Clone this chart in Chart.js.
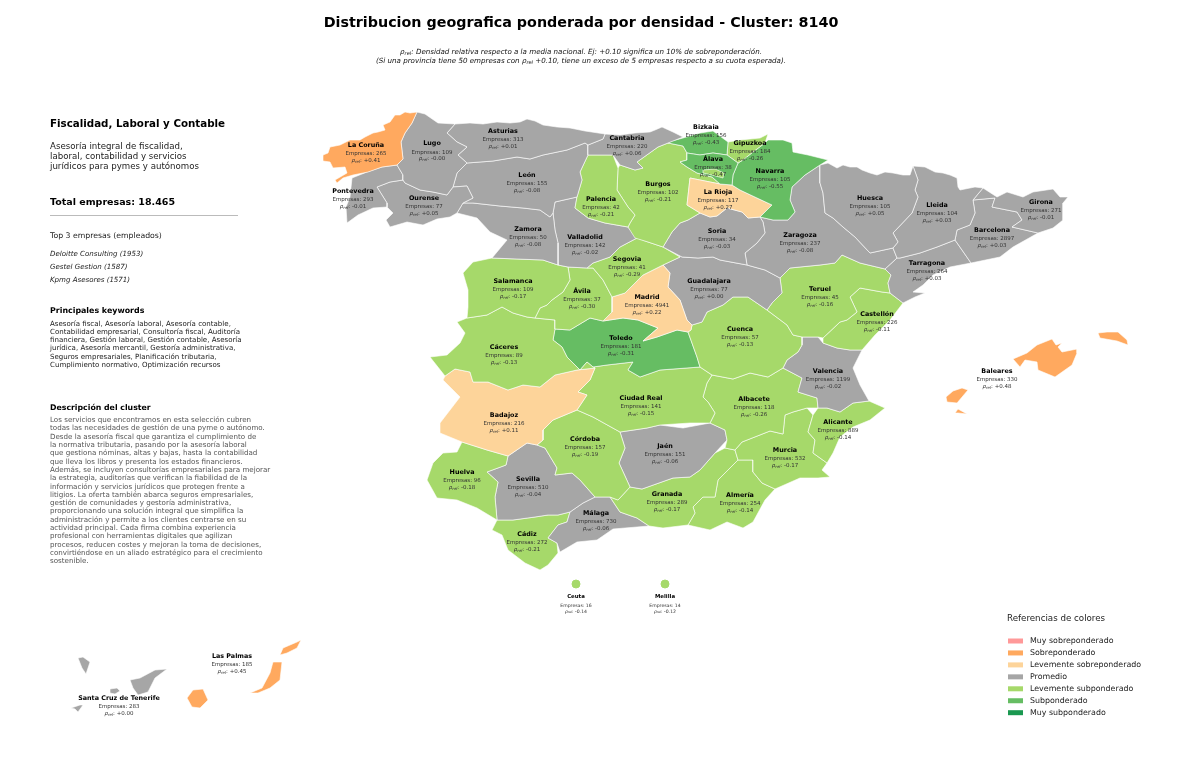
<!DOCTYPE html>
<html><head><meta charset="utf-8">
<style>html,body{margin:0;padding:0;background:#fff}canvas{display:block}</style>
<script src="https://cdn.jsdelivr.net/npm/chart.js@4"></script>
</head><body><canvas id="c" width="1200" height="761"></canvas>
<script>
const provinces=["La Coruña","Lugo","Asturias","Cantabria","Bizkaia","Gipuzkoa","Álava","Navarra","La Rioja","Pontevedra","Ourense","León","Palencia","Burgos","Huesca","Lleida","Girona","Barcelona","Zamora","Valladolid","Soria","Zaragoza","Tarragona","Segovia","Salamanca","Ávila","Madrid","Guadalajara","Teruel","Castellón","Cuenca","Cáceres","Toledo","Badajoz","Ciudad Real","Valencia","Albacete","Alicante","Córdoba","Jaén","Murcia","Huelva","Sevilla","Granada","Almería","Málaga","Cádiz","Ceuta","Melilla","Baleares","Las Palmas","Santa Cruz de Tenerife"];
const empresas=[265,109,313,220,156,184,38,105,117,293,77,155,42,102,105,104,271,2897,50,142,34,237,264,41,109,37,4941,77,45,226,57,89,181,216,141,1199,118,889,157,151,532,96,510,289,254,730,272,16,14,330,185,283];
const rhoRel=[0.41,-0.00,0.01,0.06,-0.43,-0.26,-0.47,-0.55,0.27,-0.01,0.05,-0.08,-0.21,-0.21,0.05,0.03,-0.01,0.03,-0.08,-0.02,-0.03,-0.08,0.03,-0.29,-0.17,-0.30,0.22,0.00,-0.16,-0.11,-0.13,-0.13,-0.31,0.11,-0.15,-0.02,-0.26,-0.14,-0.19,-0.06,-0.17,-0.18,-0.04,-0.17,-0.14,-0.06,-0.21,-0.14,-0.12,0.48,0.45,0.00];
const labelAnchorX=[366,432,503,627,706,750,713,770,718,353,424,527,601,658,870,937,1041,992,528,585,717,800,927,627,513,582,647,709,820,877,740,504,621,504,641,828,754,838,585,665,785,462,528,667,740,596,527,576,665,997,232,119];
const labelAnchorY=[145,143.5,131,138,127,143,159,171,192,191,198,175,199,184,198,205,202,230,229,237,231,235,263,259,281,291,297,281,289,314,329,347,338,415,398,371,399,422,439,446,450,472,479,494,495,513,534,597,597,371,656,698];
const outlines={
"La Coruña":[[417,112,412,123,405,133,401,142,403,159,397,165,382,167,368,172,353,175,343,178,337,183,335,180,347,173,345,167,333,168,330,162,323,161,323,155,328,153,330,147,340,145,350,140,360,140,365,137,373,133,378,132,385,130,383,125,390,122,395,115,400,115,405,112,410,113]],
"Pontevedra":[[397,165,403,175,403,180,390,182,377,187,387,203,387,207,373,208,358,215,347,223,346,207,350,197,352,178,367,172,382,167]],
"Lugo":[[417,112,425,114,438,123,455,124,447,133,457,142,467,147,458,155,467,163,457,173,453,187,447,195,433,192,420,190,405,183,403,180,403,175,397,165,403,159,401,142,405,133,412,123]],
"Ourense":[[377,187,390,182,403,180,405,183,420,190,433,192,447,195,453,187,467,186,473,198,463,203,457,213,450,217,437,219,423,225,407,222,390,227,386,220,393,213,387,207,387,203]],
"Asturias":[[455,124,470,123,483,124,497,122,510,123,520,122,527,119,535,121,543,125,557,127,570,128,585,131,605,134,603,139,588,145,585,143,567,150,543,155,530,159,517,157,493,161,467,163,458,155,467,147,457,142,447,133]],
"León":[[467,163,493,161,517,157,530,159,543,155,567,150,585,143,588,145,588,155,580,172,582,180,577,197,555,202,553,213,550,217,540,210,523,208,500,206,473,203,463,203,473,198,467,186,453,187,457,173]],
"Zamora":[[457,213,463,203,473,203,500,206,523,208,540,210,550,217,553,213,555,230,558,243,558,265,543,260,517,259,492,258,507,240,490,232,477,218]],
"Valladolid":[[555,202,577,197,575,208,588,218,605,223,628,227,637,238,620,247,610,257,593,263,587,268,568,267,558,265,558,243,555,230,553,213]],
"Palencia":[[588,155,605,155,613,155,618,168,617,190,628,207,635,215,630,223,628,227,605,223,588,218,575,208,577,197,582,180,580,172]],
"Cantabria":[[605,134,620,135,635,133,650,132,655,130,662,127,673,132,683,137,668,143,658,147,637,162,643,168,635,170,620,165,613,155,605,155,588,155,588,145,603,139]],
"Burgos":[[637,162,658,147,668,143,683,146,687,153,687,160,680,162,687,167,697,173,712,177,720,184,700,180,690,178,687,205,700,213,688,220,680,223,672,232,663,247,648,242,635,238,628,227,630,223,635,215,628,207,617,190,618,168,620,165,635,170,643,168],[703,170,715,169,724,173,723,178,712,175,703,173]],
"Bizkaia":[[668,143,672,141,683,138,700,133,713,131,728,142,727,155,713,153,700,155,687,153,683,146]],
"Gipuzkoa":[[728,142,740,140,760,138,768,134,765,143,753,152,743,160,738,163,727,155]],
"Navarra":[[765,143,768,140,783,140,792,143,793,152,808,155,828,160,820,165,805,175,792,187,790,200,795,212,788,220,773,220,760,217,772,205,757,198,740,190,732,185,733,175,738,163,743,160,753,152]],
"Álava":[[687,153,700,155,713,153,727,155,738,163,733,175,732,185,720,184,712,177,697,173,687,167,680,162,687,160]],
"La Rioja":[[690,178,700,180,720,184,732,185,740,190,757,198,772,205,760,217,748,218,742,212,727,208,717,216,710,217,700,213,687,205]],
"Soria":[[700,213,710,217,717,216,727,208,742,212,748,218,760,217,763,222,765,233,757,243,745,253,747,265,720,260,713,257,698,258,682,257,663,247,672,232,680,223,688,220]],
"Zaragoza":[[760,217,773,220,788,220,795,212,790,200,792,187,805,175,820,165,820,183,823,193,825,213,833,218,843,227,855,237,870,253,893,248,897,258,885,269,860,263,842,255,835,263,820,265,800,267,790,268,780,278,765,270,747,265,745,253,757,243,765,233,763,222]],
"Huesca":[[820,165,828,163,837,168,843,165,850,167,857,167,862,170,870,173,877,175,885,172,893,173,903,175,910,175,913,166,918,180,915,190,918,197,912,213,893,233,898,242,893,248,870,253,855,237,843,227,833,218,825,213,823,193,820,183]],
"Lleida":[[913,166,925,167,935,172,943,173,950,175,957,178,958,187,960,190,975,187,983,188,973,200,975,213,970,225,957,230,955,240,937,247,920,253,900,258,897,258,893,248,898,242,893,233,912,213,918,197,915,190,918,180]],
"Tarragona":[[885,269,897,258,900,258,920,253,937,247,955,240,962,250,971,263,950,267,933,275,923,285,913,292,925,293,915,297,903,303,890,293,888,283,891,275]],
"Barcelona":[[973,200,995,198,992,207,1017,212,1022,220,1012,227,1038,233,1013,247,1000,257,971,263,962,250,955,240,957,230,970,225,975,213]],
"Girona":[[983,188,997,197,1007,192,1023,197,1033,192,1053,189,1060,197,1068,197,1063,203,1063,220,1053,228,1038,233,1012,227,1022,220,1017,212,992,207,995,198,973,200]],
"Teruel":[[780,278,790,268,800,267,820,265,835,263,842,255,860,263,885,269,891,275,888,283,890,293,882,292,860,288,850,297,857,312,847,320,840,322,823,338,818,337,802,337,793,335,787,325,767,310,772,303,782,293]],
"Castellón":[[850,297,860,288,882,292,890,293,903,303,890,320,875,335,862,350,850,350,837,348,823,343,823,338,840,322,847,320,857,312]],
"Valencia":[[802,337,818,337,823,343,837,348,850,350,862,350,853,368,860,385,869,401,853,403,840,412,827,408,818,408,817,398,798,392,802,378,783,368,787,360,798,352,802,345],[788,327,795,323,808,330,805,334,793,334]],
"Cuenca":[[688,332,691,330,692,325,702,322,707,312,723,305,733,297,748,297,767,310,787,325,793,335,802,337,802,345,798,352,787,360,783,368,768,377,750,373,733,379,712,375,700,367,697,357]],
"Guadalajara":[[663,247,682,257,698,258,713,257,720,260,747,265,765,270,780,278,782,293,772,303,767,310,748,297,733,297,723,305,707,312,702,322,692,325,687,320,680,300,668,287,670,273,663,265,680,257]],
"Segovia":[[663,247,680,257,663,265,643,275,625,293,612,297,603,280,593,268,587,268,593,263,610,257,620,247,637,238,648,242]],
"Madrid":[[663,265,670,273,668,287,680,300,687,320,692,325,691,330,688,332,677,330,657,337,643,341,658,328,638,320,623,318,603,321,612,312,612,297,625,293,643,275]],
"Toledo":[[555,329,570,330,590,318,603,321,623,318,638,320,658,328,643,341,657,337,677,330,688,332,697,357,700,367,660,370,640,377,628,370,633,362,607,365,593,367,587,362,580,370,567,357,562,347,553,340]],
"Ávila":[[568,267,587,268,593,268,603,280,612,297,612,312,603,321,590,318,570,330,555,329,555,320,535,318,540,308,547,305,552,300,563,292,570,280]],
"Salamanca":[[463,273,473,262,492,258,517,259,543,260,558,265,568,267,570,280,563,292,552,300,547,305,540,308,535,318,527,317,513,313,502,307,487,315,467,318,468,307,468,290]],
"Cáceres":[[457,322,467,318,487,315,502,307,513,313,527,317,535,318,555,320,555,329,553,340,562,347,567,357,580,370,587,362,593,367,595,368,577,370,555,375,540,387,523,385,508,390,488,382,473,382,470,372,455,369,445,376,430,357,447,355,460,343,465,333]],
"Badajoz":[[445,376,455,369,470,372,473,382,488,382,508,390,523,385,540,387,555,375,577,370,595,368,590,380,578,392,587,395,577,410,553,420,543,430,543,440,537,445,527,443,508,456,487,450,462,442,440,433,440,423,460,397,443,380]],
"Ciudad Real":[[595,368,593,367,607,365,633,362,628,370,640,377,660,370,700,367,712,375,707,383,703,397,708,402,715,413,710,423,690,423,660,425,647,428,620,432,593,417,577,410,587,395,578,392,590,380]],
"Córdoba":[[543,430,553,420,577,410,593,417,620,432,625,448,619,463,630,487,618,500,610,497,595,497,580,480,572,473,555,475,557,468,545,448,537,445,543,440]],
"Jaén":[[620,432,647,428,660,425,683,428,710,423,725,430,727,440,715,453,700,470,690,477,673,478,642,489,630,487,619,463,625,448]],
"Granada":[[618,500,630,487,642,489,673,478,690,477,700,470,715,453,725,448,735,450,738,460,718,480,715,497,703,497,693,507,695,513,688,525,663,528,649,526,637,518,620,512,610,497]],
"Almería":[[738,460,753,460,753,472,762,483,775,489,765,500,753,522,743,528,727,522,710,530,688,525,695,513,693,507,703,497,715,497,718,480]],
"Murcia":[[735,450,742,442,770,431,783,434,785,415,793,412,807,408,813,415,808,432,815,440,813,453,827,463,822,470,830,477,818,478,800,478,775,489,762,483,753,472,753,460,738,460]],
"Alicante":[[813,415,818,408,827,408,840,412,853,403,869,401,885,408,870,420,853,427,840,437,833,453,827,463,813,453,815,440,808,432]],
"Albacete":[[712,375,733,379,750,373,768,377,783,368,802,378,798,392,817,398,818,408,807,408,793,412,785,415,783,434,770,431,742,442,735,450,725,448,727,440,725,430,710,423,715,413,708,402,703,397,707,383]],
"Huelva":[[462,442,487,450,508,456,506,465,487,472,498,482,495,497,497,520,477,508,457,500,437,498,427,480,433,463,443,453,457,452]],
"Sevilla":[[487,472,506,465,508,456,527,443,537,445,545,448,557,468,555,475,572,473,580,480,595,497,583,503,570,512,558,515,548,515,535,517,513,520,497,520,495,497,498,482]],
"Cádiz":[[497,520,513,520,535,517,548,515,558,515,570,512,567,522,558,525,548,538,557,543,558,553,548,565,540,570,525,563,508,550,502,535,492,530]],
"Málaga":[[570,512,583,503,595,497,610,497,620,512,637,518,649,526,613,529,597,540,577,542,560,552,557,543,548,538,558,525,567,522]],
"Baleares":[[1013,359,1027,353,1037,345,1052,339,1056,345,1062,343,1058,347,1062,352,1077,349,1077,353,1072,365,1055,377,1038,370,1037,362,1025,360,1020,367],[1098,333,1107,332,1118,332,1127,340,1128,345,1117,341,1100,338],[946,397,953,391,962,388,968,390,957,403,947,402],[955,413,958,409,967,414,958,413]],
"Santa Cruz de Tenerife":[[78,658,83,657,90,662,86,674,82,668],[130,680,140,678,155,670,167,669,155,678,148,692,138,695,133,688],[110,689,117,688,120,691,115,694,110,693],[71,708,80,705,83,705,78,712,75,709]],
"Las Palmas":[[187,698,193,690,203,689,208,700,200,708,192,707],[250,693,262,688,270,673,273,662,282,662,280,680,270,688,258,693],[280,655,283,648,297,642,301,640,297,648,287,653]]
};
const cityPoints={"Ceuta":[576,584],"Melilla":[665,584]};
const legendLabels=["Muy sobreponderado","Sobreponderado","Levemente sobreponderado","Promedio","Levemente subponderado","Subponderado","Muy subponderado"];
const legendColors=["#ff9999","#ffa95f","#fdd49a","#a6a6a6","#a6d96a","#66bd63","#1a9850"];
const titleText="Distribucion geografica ponderada por densidad - Cluster: 8140";
const leftDesc=["Asesoría integral de fiscalidad,","laboral, contabilidad y servicios","jurídicos para pymes y autónomos"];
const topCompanies=["Deloitte Consulting (1953)","Gestel Gestion (1587)","Kpmg Asesores (1571)"];
const keywords=["Asesoría fiscal, Asesoría laboral, Asesoría contable,","Contabilidad empresarial, Consultoría fiscal, Auditoría","financiera, Gestión laboral, Gestión contable, Asesoría","jurídica, Asesoría mercantil, Gestoría administrativa,","Seguros empresariales, Planificación tributaria,","Cumplimiento normativo, Optimización recursos"];
const clusterText=["Los servicios que encontramos en esta selección cubren","todas las necesidades de gestión de una pyme o autónomo.","Desde la asesoría fiscal que garantiza el cumplimiento de","la normativa tributaria, pasando por la asesoría laboral","que gestiona nóminas, altas y bajas, hasta la contabilidad","que lleva los libros y presenta los estados financieros.","Además, se incluyen consultorías empresariales para mejorar","la estrategia, auditorías que verifican la fiabilidad de la","información y servicios jurídicos que protegen frente a","litigios. La oferta también abarca seguros empresariales,","gestión de comunidades y gestoría administrativa,","proporcionando una solución integral que simplifica la","administración y permite a los clientes centrarse en su","actividad principal. Cada firma combina experiencia","profesional con herramientas digitales que agilizan","procesos, reducen costes y mejoran la toma de decisiones,","convirtiéndose en un aliado estratégico para el crecimiento","sostenible."];

const FF='"DejaVu Sans"';
function colorFor(r){
  if(r>=0.6)return legendColors[0];
  if(r>=0.3)return legendColors[1];
  if(r>0.1)return legendColors[2];
  if(r>=-0.1)return legendColors[3];
  if(r>=-0.30)return legendColors[4];
  if(r>=-0.6)return legendColors[5];
  return legendColors[6];
}
const datasets=[];
provinces.forEach((p,i)=>{
  const col=colorFor(rhoRel[i]);
  (outlines[p]||[]).forEach((ring,k)=>{
    const data=[];
    for(let j=0;j<ring.length;j+=2)data.push({x:ring[j],y:ring[j+1]});
    data.push({x:ring[0],y:ring[1]});
    const enclave=(p==="Burgos"&&k===1);
    datasets.push({label:p,data,showLine:true,fill:'shape',backgroundColor:col,borderColor:'#ffffff',borderWidth:0.6,pointRadius:0,tension:0,order:enclave?0:(p==="Álava"?1:2)});
  });
  if(cityPoints[p]){
    datasets.push({label:p,data:[{x:cityPoints[p][0],y:cityPoints[p][1]}],showLine:false,backgroundColor:col,borderColor:col,pointRadius:4,order:0});
  }
});
function text(ctx,s,x,y,font,color,align){
  ctx.font=font+' '+FF;ctx.fillStyle=color;ctx.textAlign=align||'left';ctx.textBaseline='middle';ctx.fillText(s,x,y);
}
function runs(ctx,parts,cx,y,color){
  let w=0;
  parts.forEach(p=>{ctx.font=p[1]+' '+FF;w+=ctx.measureText(p[0]).width;});
  let x=cx-w/2;
  ctx.fillStyle=color;ctx.textAlign='left';ctx.textBaseline='middle';
  parts.forEach(p=>{ctx.font=p[1]+' '+FF;ctx.fillText(p[0],x,y+(p[2]||0));x+=ctx.measureText(p[0]).width;});
}
const sign=v=>(v>=0&&!Object.is(v,-0)?'+':'-')+Math.abs(v).toFixed(2);
const overlay={id:'overlay',afterDatasetsDraw(chart){
  const ctx=chart.ctx,sx=chart.scales.x,sy=chart.scales.y;
  ctx.save();
  text(ctx,titleText,581,23,'bold 14.3px','#000','center');
  const it='italic 7.12px',sub='italic 5.1px';
  runs(ctx,[["ρ",it],["rel",sub,1.5],[": Densidad relativa respecto a la media nacional. Ej: +0.10 significa un 10% de sobreponderación.",it]],581,52,'#111');
  runs(ctx,[["(Si una provincia tiene 50 empresas con ",it],["ρ",it],["rel",sub,1.5],[" +0.10, tiene un exceso de 5 empresas respecto a su cuota esperada).",it]],581,61,'#111');
  text(ctx,"Fiscalidad, Laboral y Contable",50,124,'bold 10.3px','#000');
  leftDesc.forEach((s,i)=>text(ctx,s,50,[147,156.5,166.5][i],'8.65px','#222'));
  text(ctx,"Total empresas: 18.465",50,203,'bold 9.5px','#000');
  ctx.strokeStyle='#aaaaaa';ctx.lineWidth=0.8;ctx.beginPath();ctx.moveTo(50,215.5);ctx.lineTo(238,215.5);ctx.stroke();
  text(ctx,"Top 3 empresas (empleados)",50,236,'7.75px','#222');
  topCompanies.forEach((s,i)=>text(ctx,s,50,254+i*13,'italic 7.05px','#222'));
  text(ctx,"Principales keywords",50,311,'bold 7.9px','#000');
  keywords.forEach((s,i)=>text(ctx,s,50,323.7+i*8.25,'7.05px','#222'));
  text(ctx,"Descripción del cluster",50,408,'bold 7.8px','#000');
  clusterText.forEach((s,i)=>text(ctx,s,50,420.3+i*8.3,'7.13px','#555'));
  text(ctx,"Referencias de colores",1007,619,'8.7px','#222');
  legendLabels.forEach((s,i)=>{
    const y=641+i*11.95;
    ctx.fillStyle=legendColors[i];ctx.fillRect(1008,y-2.5,15,5);
    text(ctx,s,1030,y,'7.9px','#222');
  });
  provinces.forEach((p,i)=>{
    const cx=sx.getPixelForValue(labelAnchorX[i]),cy=sy.getPixelForValue(labelAnchorY[i]);
    const small=(p==="Ceuta"||p==="Melilla");
    const nf=small?5.4:6.4,vf=small?4.6:5.5;
    text(ctx,p,cx,cy,'bold '+nf+'px','#000','center');
    text(ctx,'Empresas: '+empresas[i],cx,cy+9,vf+'px','#333','center');
    const v=(p==="Lugo")?'-0.00':sign(rhoRel[i]);
    runs(ctx,[["ρ",'italic '+vf+'px'],["rel",'italic '+(vf*0.7)+'px',1],[": "+v,vf+'px']],cx,cy+(small?14.5:15.5),'#333');
  });
  ctx.restore();
}};
new Chart(document.getElementById('c'),{
  type:'scatter',
  data:{datasets},
  options:{
    responsive:false,animation:false,devicePixelRatio:1,
    layout:{padding:0,autoPadding:false},
    scales:{x:{type:'linear',min:0,max:1200,display:false},y:{type:'linear',min:0,max:761,reverse:true,display:false}},
    plugins:{legend:{display:false},tooltip:{enabled:false},title:{display:false}},
    elements:{line:{borderJoinStyle:'round'}}
  },
  plugins:[overlay]
});
</script></body></html>
